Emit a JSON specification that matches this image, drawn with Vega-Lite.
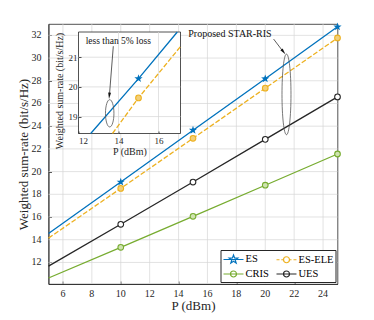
{
"$schema":"https://vega.github.io/schema/vega-lite/v6.json",
"width":289,"height":260,
"autosize":"none",
"padding":{"left":48.5,"top":24,"right":36.5,"bottom":36},
"background":"white",
"datasets":{
 "main":[
  {"P":5,"R":14.55,"s":"ES"},{"P":10,"R":19.08,"s":"ES"},{"P":15,"R":23.65,"s":"ES"},{"P":20,"R":28.18,"s":"ES"},{"P":25,"R":32.75,"s":"ES"},
  {"P":5,"R":14.14,"s":"ES-ELE"},{"P":10,"R":18.52,"s":"ES-ELE"},{"P":15,"R":22.93,"s":"ES-ELE"},{"P":20,"R":27.35,"s":"ES-ELE"},{"P":25,"R":31.77,"s":"ES-ELE"},
  {"P":5,"R":10.63,"s":"CRIS"},{"P":10,"R":13.33,"s":"CRIS"},{"P":15,"R":16.06,"s":"CRIS"},{"P":20,"R":18.8,"s":"CRIS"},{"P":25,"R":21.55,"s":"CRIS"},
  {"P":5,"R":11.67,"s":"UES"},{"P":10,"R":15.36,"s":"UES"},{"P":15,"R":19.08,"s":"UES"},{"P":20,"R":22.84,"s":"UES"},{"P":25,"R":26.58,"s":"UES"}
 ],
 "inset":[
  {"P":12.61,"R":18.43,"s":"ES"},{"P":15,"R":20.28,"s":"ES"},{"P":16.94,"R":21.85,"s":"ES"},
  {"P":13.7,"R":18.43,"s":"ES-ELE"},{"P":15,"R":19.63,"s":"ES-ELE"},{"P":17.1,"R":21.36,"s":"ES-ELE"}
 ],
 "gridX":[{"g":6},{"g":8},{"g":10},{"g":12},{"g":14},{"g":16},{"g":18},{"g":20},{"g":22},{"g":24}],
 "gridY":[{"g":12},{"g":14},{"g":16},{"g":18},{"g":20},{"g":22},{"g":24},{"g":26},{"g":28},{"g":30},{"g":32}],
 "insetGridX":[{"g":14},{"g":16}],
 "insetGridY":[{"g":19},{"g":20},{"g":21}],
 "one":[{"k":1}]
},
"config":{
 "font":"Liberation Serif",
 "view":{"stroke":"#262626","strokeWidth":0.8},
 "axis":{"labelFont":"Liberation Serif","titleFont":"Liberation Serif","labelColor":"#262626","titleColor":"#262626","titleFontWeight":"normal","domainColor":"#262626","domainWidth":0.8,"tickColor":"#262626","tickWidth":0.8,"grid":false,"labelOverlap":false,"labelBound":false},
 "legend":{"strokeColor":"#262626","fillColor":"white","padding":2,"labelFont":"Liberation Serif","labelFontSize":10.5,"labelColor":"#000000","symbolSize":144,"symbolStrokeWidth":1.2,"columnPadding":4,"rowPadding":1,"labelOffset":9}
},
"resolve":{"scale":{"x":"independent","y":"independent"}},
"layer":[
 {"layer":[
  {"data":{"name":"gridX"},"mark":{"type":"rule","stroke":"#d6d6d6","strokeWidth":0.7},
   "encoding":{
    "x":{"field":"g","type":"quantitative","scale":{"domain":[5,25],"nice":false,"zero":false},
         "axis":{"orient":"bottom","values":[6,8,10,12,14,16,18,20,22,24],"labels":false,"title":"P (dBm)","titleFontSize":13,"tickSize":-3,"titlePadding":15,"grid":false}}
   }},
  {"data":{"name":"gridY"},"mark":{"type":"rule","stroke":"#d6d6d6","strokeWidth":0.7},
   "encoding":{
    "y":{"field":"g","type":"quantitative","scale":{"domain":[10.1,33],"nice":false,"zero":false},
         "axis":{"orient":"left","values":[12,14,16,18,20,22,24,26,28,30,32],"labels":false,"title":"Weighted sum-rate (bit/s/Hz)","titleFontSize":13,"tickSize":-3,"titlePadding":18,"grid":false}}
   }},
  {"data":{"name":"gridX"},"mark":{"type":"text","font":"Liberation Serif","fontSize":10,"color":"#262626","align":"center","baseline":"middle","dy":10},
   "encoding":{"x":{"field":"g","type":"quantitative"},"y":{"datum":10.1},"text":{"field":"g","type":"quantitative","format":"d"}}},
  {"data":{"name":"gridY"},"mark":{"type":"text","font":"Liberation Serif","fontSize":10,"color":"#262626","align":"right","baseline":"middle","dx":-7},
   "encoding":{"y":{"field":"g","type":"quantitative"},"x":{"datum":5},"text":{"field":"g","type":"quantitative","format":"d"}}},
  {"data":{"name":"main"},"transform":[{"filter":"datum.s==='ES'"}],"mark":{"type":"line","strokeWidth":1.3,"stroke":"#0072BD"},
   "encoding":{"x":{"field":"P","type":"quantitative"},"y":{"field":"R","type":"quantitative"}}},
  {"data":{"name":"main"},"transform":[{"filter":"datum.s==='ES-ELE'"}],"mark":{"type":"line","strokeWidth":1.3,"stroke":"#EDB120","strokeDash":[5,2]},
   "encoding":{"x":{"field":"P","type":"quantitative"},"y":{"field":"R","type":"quantitative"}}},
  {"data":{"name":"main"},"transform":[{"filter":"datum.s==='CRIS'"}],"mark":{"type":"line","strokeWidth":1.3,"stroke":"#77AC30"},
   "encoding":{"x":{"field":"P","type":"quantitative"},"y":{"field":"R","type":"quantitative"}}},
  {"data":{"name":"main"},"transform":[{"filter":"datum.s==='UES'"}],"mark":{"type":"line","strokeWidth":1.3,"stroke":"#262626"},
   "encoding":{"x":{"field":"P","type":"quantitative"},"y":{"field":"R","type":"quantitative"}}},
  {"data":{"name":"main"},"transform":[{"filter":"datum.s==='ES' && datum.P>5"}],
   "mark":{"type":"point","shape":"M0,-1L0.235,-0.324L0.951,-0.309L0.38,0.124L0.588,0.809L0,0.4L-0.588,0.809L-0.38,0.124L-0.951,-0.309L-0.235,-0.324Z","filled":true,"color":"#0072BD","size":75,"opacity":1},
   "encoding":{"x":{"field":"P","type":"quantitative"},"y":{"field":"R","type":"quantitative"}}},
  {"data":{"name":"main"},"transform":[{"filter":"datum.s==='ES-ELE' && datum.P>5"}],
   "mark":{"type":"point","shape":"circle","fill":"#f3cf78","stroke":"#EDB120","strokeWidth":1.1,"size":32,"opacity":1},
   "encoding":{"x":{"field":"P","type":"quantitative"},"y":{"field":"R","type":"quantitative"}}},
  {"data":{"name":"main"},"transform":[{"filter":"datum.s==='CRIS' && datum.P>5"}],
   "mark":{"type":"point","shape":"circle","fill":"#cfe3b0","stroke":"#77AC30","strokeWidth":1.1,"size":32,"opacity":1},
   "encoding":{"x":{"field":"P","type":"quantitative"},"y":{"field":"R","type":"quantitative"}}},
  {"data":{"name":"main"},"transform":[{"filter":"datum.s==='UES' && datum.P>5"}],
   "mark":{"type":"point","shape":"circle","fill":"#ffffff","stroke":"#262626","strokeWidth":1.1,"size":32,"opacity":1},
   "encoding":{"x":{"field":"P","type":"quantitative"},"y":{"field":"R","type":"quantitative"}}},
  {"data":{"name":"main"},"mark":{"type":"point","opacity":0,"filled":false},
   "encoding":{
    "x":{"field":"P","type":"quantitative"},"y":{"field":"R","type":"quantitative"},
    "color":{"field":"s","type":"nominal","scale":{"domain":["ES","CRIS","ES-ELE","UES"],"range":["#0072BD","#77AC30","#EDB120","#262626"]},"legend":{"title":null,"orient":"bottom-right","offset":2,"columns":2}},
    "shape":{"field":"s","type":"nominal","scale":{"domain":["ES","CRIS","ES-ELE","UES"],"range":[
      "M-1,0H2.33M0.667,-0.75L0.843,-0.243L1.38,-0.232L0.952,0.093L1.108,0.607L0.667,0.3L0.226,0.607L0.382,0.093L-0.046,-0.232L0.491,-0.243Z",
      "M-1,0H2.33M0.167,0A0.5,0.5 0 1,0 1.167,0A0.5,0.5 0 1,0 0.167,0Z",
      "M-1,0H-0.5M-0.2,0H0.17M1.17,0H1.5M1.83,0H2.33M0.167,0A0.5,0.5 0 1,0 1.167,0A0.5,0.5 0 1,0 0.167,0Z",
      "M-1,0H2.33M0.167,0A0.5,0.5 0 1,0 1.167,0A0.5,0.5 0 1,0 0.167,0Z"]},"legend":{"title":null,"orient":"bottom-right","offset":2,"columns":2}}
   }},
  {"data":{"name":"one"},"mark":{"type":"point","shape":"M0,-1A0.1115,1 0 1,0 0,1A0.1115,1 0 1,0 0,-1Z","size":6512,"filled":false,"stroke":"#555555","strokeWidth":0.8,"opacity":1},
   "encoding":{"x":{"datum":21.47},"y":{"datum":26.8}}},
  {"data":{"name":"one"},"mark":{"type":"rule","stroke":"#333333","strokeWidth":0.8},
   "encoding":{"x":{"datum":20.58},"y":{"datum":31.67},"x2":{"datum":21.22},"y2":{"datum":30.6}}},
  {"data":{"name":"one"},"mark":{"type":"point","shape":"M0,-1L0.45,1L-0.45,1Z","size":40,"filled":true,"color":"#111111","angle":142,"opacity":1},
   "encoding":{"x":{"datum":21.26},"y":{"datum":30.55}}},
  {"data":{"name":"one"},"mark":{"type":"text","text":"Proposed STAR-RIS","font":"Liberation Serif","fontSize":10,"color":"#111111","align":"center","baseline":"middle"},
   "encoding":{"x":{"datum":17.56},"y":{"datum":32.11}}}
 ]},
 {"layer":[
  {"data":{"name":"one"},"mark":{"type":"rect","fill":"white","stroke":"#262626","strokeWidth":0.8},
   "encoding":{
    "x":{"datum":12,"type":"quantitative","scale":{"domain":[12,17.1],"range":[30,132],"nice":false,"zero":false},
         "axis":{"orient":"bottom","offset":-150.5,"values":[12,14,16],"format":"d","title":"P (dBm)","labelFontSize":9,"titleFontSize":10,"tickSize":-2.5,"labelPadding":5,"titlePadding":1,"grid":false,"domain":false,"zindex":1}},
    "x2":{"datum":17.1},
    "y":{"datum":18.43,"type":"quantitative","scale":{"domain":[18.43,21.85],"range":[109.5,8],"nice":false,"zero":false},
         "axis":{"orient":"left","offset":-30,"values":[19,20,21],"format":"d","title":"Weighted sum-rate (bit/s/Hz)","labelFontSize":9,"titleFontSize":10,"tickSize":-2.5,"labelPadding":4,"titlePadding":4,"titleY":66.5,"grid":false,"domain":false,"zindex":1}},
    "y2":{"datum":21.85}
   }},
  {"data":{"name":"insetGridX"},"mark":{"type":"rule","stroke":"#d6d6d6","strokeWidth":0.7},
   "encoding":{"x":{"field":"g","type":"quantitative"},"y":{"datum":18.43},"y2":{"datum":21.85}}},
  {"data":{"name":"insetGridY"},"mark":{"type":"rule","stroke":"#d6d6d6","strokeWidth":0.7},
   "encoding":{"y":{"field":"g","type":"quantitative"},"x":{"datum":12},"x2":{"datum":17.1}}},
  {"data":{"name":"inset"},"transform":[{"filter":"datum.s==='ES'"}],"mark":{"type":"line","stroke":"#0072BD","strokeWidth":1.3},
   "encoding":{"x":{"field":"P","type":"quantitative"},"y":{"field":"R","type":"quantitative"}}},
  {"data":{"name":"inset"},"transform":[{"filter":"datum.s==='ES-ELE'"}],"mark":{"type":"line","stroke":"#EDB120","strokeWidth":1.3,"strokeDash":[5,2]},
   "encoding":{"x":{"field":"P","type":"quantitative"},"y":{"field":"R","type":"quantitative"}}},
  {"data":{"name":"inset"},"transform":[{"filter":"datum.s==='ES' && datum.P===15"}],
   "mark":{"type":"point","shape":"M0,-1L0.235,-0.324L0.951,-0.309L0.38,0.124L0.588,0.809L0,0.4L-0.588,0.809L-0.38,0.124L-0.951,-0.309L-0.235,-0.324Z","filled":true,"color":"#0072BD","size":75,"opacity":1},
   "encoding":{"x":{"field":"P","type":"quantitative"},"y":{"field":"R","type":"quantitative"}}},
  {"data":{"name":"inset"},"transform":[{"filter":"datum.s==='ES-ELE' && datum.P===15"}],
   "mark":{"type":"point","shape":"circle","fill":"#f3cf78","stroke":"#EDB120","strokeWidth":1.1,"size":32,"opacity":1},
   "encoding":{"x":{"field":"P","type":"quantitative"},"y":{"field":"R","type":"quantitative"}}},
  {"data":{"name":"one"},"mark":{"type":"point","shape":"M0,-1A0.31,1 0 1,0 0,1A0.31,1 0 1,0 0,-1Z","size":745,"filled":false,"stroke":"#555555","strokeWidth":0.8,"opacity":1},
   "encoding":{"x":{"datum":13.56},"y":{"datum":19.11}}},
  {"data":{"name":"one"},"mark":{"type":"rule","stroke":"#333333","strokeWidth":0.8},
   "encoding":{"x":{"datum":13.74},"y":{"datum":21.37},"x2":{"datum":13.55},"y2":{"datum":19.75}}},
  {"data":{"name":"one"},"mark":{"type":"point","shape":"M0,-1L0.45,1L-0.45,1Z","size":40,"filled":true,"color":"#111111","angle":185,"opacity":1},
   "encoding":{"x":{"datum":13.54},"y":{"datum":19.7}}},
  {"data":{"name":"one"},"mark":{"type":"text","text":"less than 5% loss","font":"Liberation Serif","fontSize":9.5,"color":"#111111","align":"center","baseline":"middle"},
   "encoding":{"x":{"datum":13.99},"y":{"datum":21.54}}}
 ]}
]
}
